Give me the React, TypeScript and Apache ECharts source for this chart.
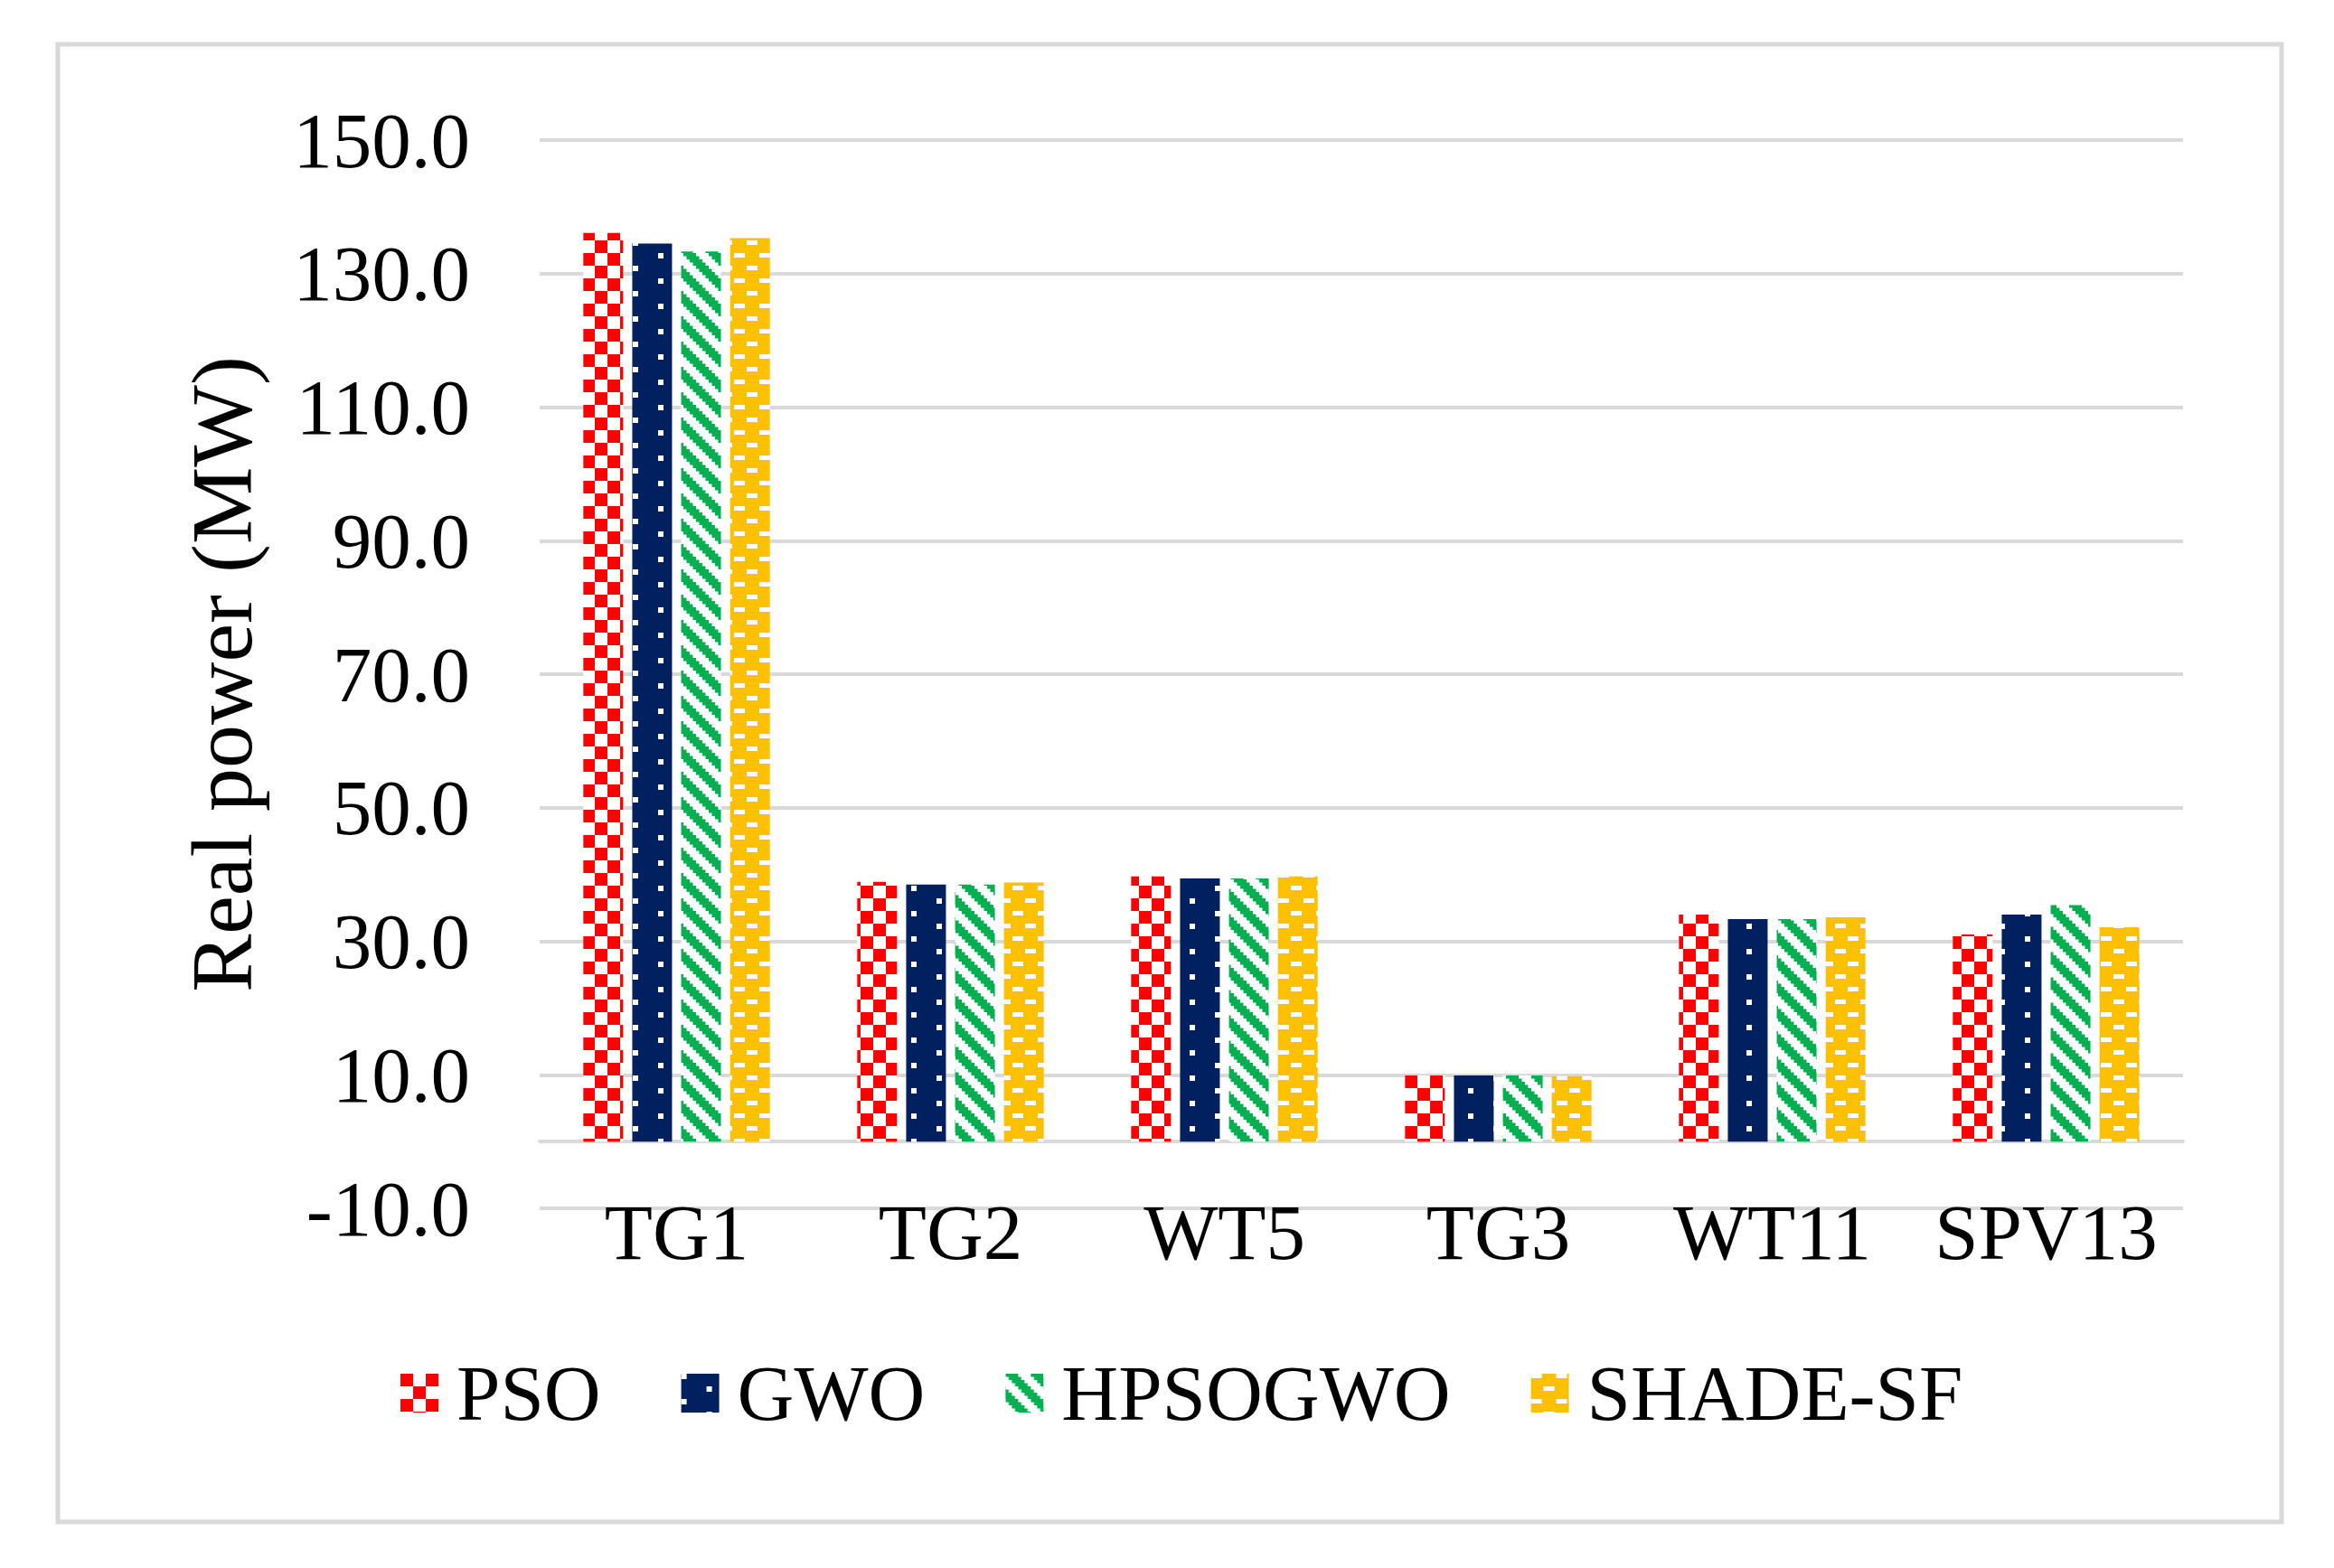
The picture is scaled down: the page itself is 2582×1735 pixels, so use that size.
import { useEffect, useRef } from 'react';
import * as echarts from 'echarts';

const categories = ['TG1', 'TG2', 'WT5', 'TG3', 'WT11', 'SPV13'];
const seriesNames = ['PSO', 'GWO', 'HPSOGWO', 'SHADE-SF'];
const psoValues = [136.1, 38.9, 39.7, 9.9, 34.0, 31.0];
const gwoValues = [134.5, 38.5, 39.4, 9.9, 33.3, 34.0];
const hpsogwoValues = [133.3, 38.5, 39.4, 9.9, 33.3, 35.4];
const shadeValues = [135.3, 38.8, 39.7, 9.8, 33.6, 32.1];
const yMin = -10;
const yMax = 150;
const yStep = 20;
const yTitle = 'Real power (MW)';

const FONT = "'Liberation Serif', 'Times New Roman', serif";

function makeTile(w: number, h: number, bg: string, draw: (ctx: CanvasRenderingContext2D, s: number) => void) {
  const S = 4;
  const c = document.createElement('canvas');
  c.width = w * S;
  c.height = h * S;
  const ctx = c.getContext('2d') as CanvasRenderingContext2D;
  ctx.fillStyle = bg;
  ctx.fillRect(0, 0, w * S, h * S);
  draw(ctx, S);
  return { image: c, repeat: 'repeat', imageWidth: w, imageHeight: h } as any;
}

function buildPatterns() {
  const red = makeTile(28, 28, '#ffffff', (ctx, s) => {
    ctx.fillStyle = '#FF0000';
    ctx.fillRect(0, 0, 14 * s, 14 * s);
    ctx.fillRect(14 * s, 14 * s, 14 * s, 14 * s);
  });
  const navy = makeTile(56, 28, '#002060', (ctx, s) => {
    ctx.fillStyle = '#ffffff';
    ctx.fillRect(0, 0, 6 * s, 6 * s);
    ctx.fillRect(28 * s, 14 * s, 6 * s, 6 * s);
  });
  const green = makeTile(28, 28, '#ffffff', (ctx, s) => {
    ctx.fillStyle = '#00B050';
    const u = 3.5 * s;
    for (let y = 0; y < 8; y++) {
      for (let x = 0; x < 8; x++) {
        if (((x - y + 8) % 8) < 4) ctx.fillRect(x * u, y * u, u, u);
      }
    }
  });
  const gold = makeTile(28, 28, '#FFC000', (ctx, s) => {
    ctx.fillStyle = '#ffffff';
    ctx.fillRect(0, 0, 12 * s, 5 * s);
    ctx.fillRect(14 * s, 14 * s, 12 * s, 5 * s);
  });
  return [red, navy, green, gold];
}

export default function App() {
  const ref = useRef<HTMLDivElement>(null);
  useEffect(() => {
    if (!ref.current) return;
    const chart = echarts.init(ref.current, null, { renderer: 'svg' });
    const patterns = buildPatterns();
    const values = [psoValues, gwoValues, hpsogwoValues, shadeValues];
    const option: any = {
      animation: false,
      backgroundColor: '#ffffff',
      textStyle: { fontFamily: FONT },
      grid: { left: 597, right: 167, top: 155, bottom: 398, containLabel: false },
      legend: {
        left: 443,
        top: 1498,
        padding: 0,
        itemWidth: 42,
        itemHeight: 43,
        itemGap: 89,
        icon: 'rect',
        data: seriesNames,
        textStyle: { fontSize: 87, fontFamily: FONT, color: '#000000', padding: [0, 0, 0, 15] },
      },
      xAxis: {
        type: 'category',
        data: categories,
        axisTick: { show: false },
        axisLine: { show: true, onZero: true, lineStyle: { color: '#d9d9d9', width: 4 } },
        axisLabel: { interval: 0, margin: -17, fontSize: 87, fontFamily: FONT, color: '#000000' },
        splitLine: { show: false },
      },
      yAxis: {
        type: 'value',
        min: yMin,
        max: yMax,
        interval: yStep,
        axisLine: { show: false },
        axisTick: { show: false },
        splitLine: { show: true, lineStyle: { color: '#d9d9d9', width: 4 } },
        axisLabel: {
          margin: 77,
          fontSize: 87,
          fontFamily: FONT,
          color: '#000000',
          formatter: (v: number) => v.toFixed(1),
        },
      },
      series: seriesNames.map((name, i) => ({
        name,
        type: 'bar',
        data: values[i],
        barWidth: 44,
        barGap: '23%',
        itemStyle: { color: patterns[i], borderWidth: 0 },
      })),
      graphic: [
        {
          type: 'rect',
          silent: true,
          z: -1,
          shape: { x: 64, y: 49, width: 2460, height: 1635 },
          style: { fill: 'transparent', stroke: '#d9d9d9', lineWidth: 5 },
        },
        {
          type: 'text',
          x: 245,
          y: 746,
          rotation: Math.PI / 2,
          style: {
            text: yTitle,
            fontSize: 96,
            fontFamily: FONT,
            fill: '#000000',
            align: 'center',
            verticalAlign: 'middle',
          },
        },
      ],
    };
    chart.setOption(option);
    return () => chart.dispose();
  }, []);
  return (
    <div
      ref={ref}
      style={{ position: 'absolute', left: 0, top: 0, width: '2582px', height: '1735px', background: '#fff' }}
    />
  );
}
